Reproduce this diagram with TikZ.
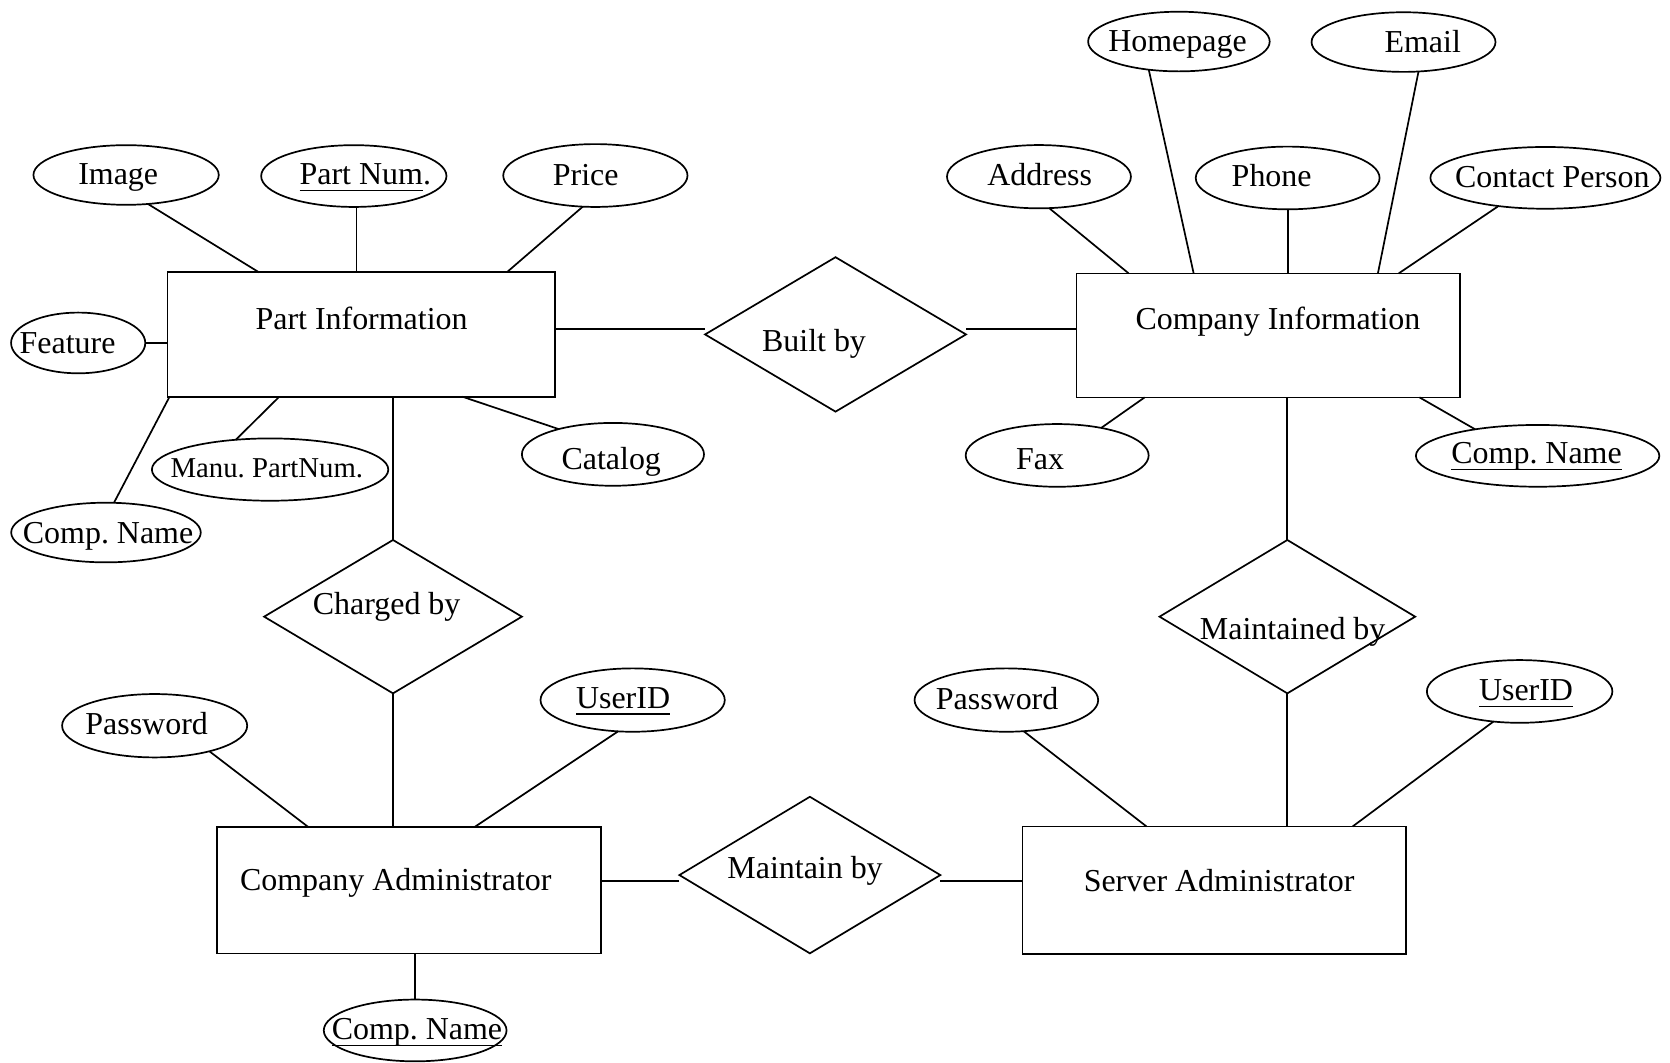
\documentclass[tikz,border=0pt]{standalone}
\usepackage{fontspec}
\setmainfont{Liberation Serif}
\usetikzlibrary{shapes.geometric}
\frenchspacing
% text placed with an offset (dx, dy in picture units, dy downwards), zero-size box
\newcommand\tx[3]{\makebox[0pt][l]{\kern#1\makebox[0pt]{\raisebox{\dimexpr-10pt-(#2)\relax}[0pt][0pt]{#3}}}}
\newsavebox\ulbox
\newcommand\myul[1]{\sbox\ulbox{#1}\rlap{\rule[-6.2pt]{\wd\ulbox}{1.3pt}}\usebox\ulbox}
\begin{document}
\begin{tikzpicture}[x=1pt,y=-1pt,line width=1.6pt,
  every node/.style={font=\fontsize{30}{36}\selectfont,inner sep=0pt,outer sep=0pt},
  entity/.style={draw,rectangle},
  attr/.style={draw,ellipse},
  rel/.style={draw,diamond},
  wh/.style 2 args={minimum width=#1pt,minimum height=#2pt}]
\useasboundingbox (0,0) rectangle (1568,998);

% entities
\node[entity,wh={363.8}{116.8}] (pi) at (339.1,314.1) {\tx{0.4pt}{-14.7pt}{Part Information}};
\node[entity,wh={360.3}{116.4}] (ci) at (1190.9,314.9) {\tx{9pt}{-15.1pt}{Company Information}};
\node[entity,wh={360.5}{119}] (ca) at (384.3,835.7) {\tx{-12.7pt}{-10pt}{Company Administrator}};
\node[entity,wh={360}{120}] (sa) at (1140,836) {\tx{4.6pt}{-9pt}{Server Administrator}};

% relationships
\node[rel,wh={245}{145}] (bb) at (784.5,314) {\tx{-20.2pt}{5.9pt}{Built by}};
\node[rel,wh={242}{144}] (cb) at (369,579) {\tx{-6pt}{-12.2pt}{Charged by}};
\node[rel,wh={240}{144}] (mb) at (1208.7,579) {\tx{5pt}{11pt}{Maintained by}};
\node[rel,wh={245}{147}] (md) at (760.4,821.6) {\tx{-4.5pt}{-6.3pt}{Maintain by}};

% attributes of Part Information
\node[attr,wh={174}{56}] (img) at (118.4,164.3) {\tx{-7.4pt}{-0.8pt}{Image}};
\node[attr,wh={174}{58}] (pn) at (332.2,165.3) {\tx{10.8pt}{-1.8pt}{\myul{Part Num}.}};
\node[attr,wh={173}{59}] (pr) at (559,164.8) {\tx{-9pt}{-1pt}{Price}};
\node[attr,wh={126}{57}] (ft) at (73.4,322) {\tx{-10pt}{0pt}{Feature}};
\node[attr,wh={222}{58.5},font=\fontsize{27}{32}\selectfont] (mp) at (253.6,440.9) {\tx{-3pt}{-2.5pt}{Manu. PartNum.}};
\node[attr,wh={171}{59}] (cat) at (575.5,426.6) {\tx{-1.6pt}{3.8pt}{Catalog}};
\node[attr,wh={178}{56}] (cnl) at (99.5,500) {\tx{2pt}{0pt}{Comp. Name}};

% attributes of Company Information
\node[attr,wh={170.5}{56}] (hp) at (1106.9,39) {\tx{-1.3pt}{-0.5pt}{Homepage}};
\node[attr,wh={172.7}{56}] (em) at (1317.8,39.5) {\tx{18pt}{0pt}{Email}};
\node[attr,wh={172.7}{59.4}] (ad) at (975.5,165.9) {\tx{0.7pt}{-1.6pt}{Address}};
\node[attr,wh={172.6}{58.9}] (ph) at (1209,167.1) {\tx{-15pt}{-2pt}{Phone}};
\node[attr,wh={216}{58}] (cp) at (1451,167) {\tx{6.5pt}{-1.2pt}{Contact Person}};
\node[attr,wh={171.8}{58.9}] (fx) at (992.6,427.6) {\tx{-16pt}{2.8pt}{Fax}};
\node[attr,wh={228.6}{58}] (cnr) at (1443.7,428) {\tx{-1pt}{-2.6pt}{\myul{Comp. Name}}};

% attributes of Company Administrator
\node[attr,wh={173.8}{59.5}] (pwl) at (145.2,681.4) {\tx{-7.5pt}{-2pt}{Password}};
\node[attr,wh={173}{59.5}] (uil) at (594,657.3) {\tx{-9pt}{-2.3pt}{\myul{UserID}}};
\node[attr,wh={171.6}{58}] (cnb) at (389.8,967.5) {\tx{1.7pt}{-1.7pt}{\myul{Comp. Name}}};

% attributes of Server Administrator
\node[attr,wh={172.4}{59.5}] (pwr) at (944.9,657.3) {\tx{-8.7pt}{-1.6pt}{Password}};
\node[attr,wh={174.2}{58.9}] (uir) at (1426.8,649.2) {\tx{6pt}{-1.3pt}{\myul{UserID}}};

% connectors: Part Information
\draw (img.-53) -- ([xshift=86pt]pi.north west);
\draw (pn.-85) -- (pn.-85 |- pi.north);
\draw (pr.-112) -- ([xshift=318.6pt]pi.north west);
\draw (ft.east) -- (ft.east -| pi.west);
\draw (mp.139) -- ([xshift=105pt]pi.south west);
\draw (cnl.75) -- ([xshift=2pt]pi.south west);
\draw (cat.155) -- ([xshift=277pt]pi.south west);
\draw (cb.north) -- (cb.north |- pi.south);
\draw ([yshift=5pt]bb.west) -- ([yshift=5pt]bb.west -| pi.east);
\draw ([yshift=5pt]bb.east) -- ([yshift=5pt]bb.east -| ci.west);

% connectors: Company Information
\draw (ad.-72) -- ([xshift=49pt]ci.north west);
\draw (hp.-137) -- ([xshift=110pt]ci.north west);
\draw (ph.south) -- (ph.south |- ci.north);
\draw (em.-63) -- ([xshift=283pt]ci.north west);
\draw (cp.-149) -- ([xshift=302.5pt]ci.north west);
\draw (fx.32) -- ([xshift=64pt]ci.south west);
\draw (cnr.157) -- ([xshift=322pt]ci.south west);
\draw (mb.north) -- (mb.north |- ci.south);
\draw (mb.south) -- (mb.south |- sa.north);

% connectors: administrators
\draw (pwl.-25) -- ([xshift=85pt]ca.north west);
\draw (uil.-115) -- ([xshift=242pt]ca.north west);
\draw (cb.south) -- (cb.south |- ca.north);
\draw (cnb.north) -- (cnb.north |- ca.south);
\draw ([yshift=-5.5pt]md.west) -- ([yshift=-5.5pt]md.west -| ca.east);
\draw ([yshift=-5.5pt]md.east) -- ([yshift=-5.5pt]md.east -| sa.west);
\draw (pwr.-61) -- ([xshift=116.5pt]sa.north west);
\draw (uir.-131) -- ([xshift=310pt]sa.north west);
\end{tikzpicture}
\end{document}
